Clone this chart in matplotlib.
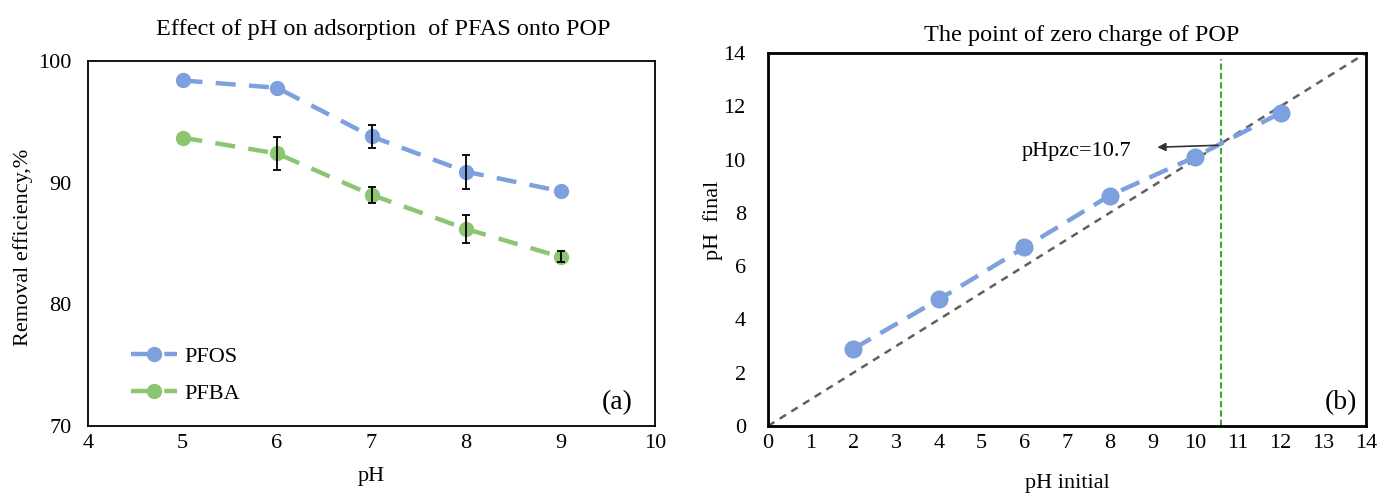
import matplotlib
matplotlib.use("Agg")
import matplotlib.pyplot as plt
import numpy as np

plt.rcParams["font.family"] = ["Liberation Serif", "DejaVu Serif"]

# (a) removal efficiency vs pH
ph = [5, 6, 7, 8, 9]
pfos = [98.4, 97.8, 93.8, 90.9, 89.3]
pfos_err = [0.0, 0.0, 0.95, 1.4, 0.0]
pfba = [93.7, 92.4, 89.0, 86.2, 83.9]
pfba_err = [0.0, 1.35, 0.65, 1.15, 0.45]

# (b) point of zero charge
ph_initial = [2, 4, 6, 8, 10, 12]
ph_final = [2.9, 4.75, 6.7, 8.65, 10.1, 11.75]
pzc_line = 10.6
pzc_label = "pHpzc=10.7"

BLUE = "#7DA0DE"
GREEN = "#8DC572"

fig = plt.figure(figsize=(13.83, 4.94), dpi=100)
ax1 = fig.add_axes([88 / 1383, 1 - 426 / 494, (655 - 88) / 1383, (426 - 61) / 494])
ax2 = fig.add_axes([768 / 1383, 1 - 426 / 494, (1366 - 768) / 1383, (426 - 53) / 494])

# --- left panel ---
for y, err, color, name in [(pfos, pfos_err, BLUE, "PFOS"),
                            (pfba, pfba_err, GREEN, "PFBA")]:
    ax1.plot(ph, y, color=color, linestyle=(0, (4.5, 3)), linewidth=3.2,
             marker="o", markersize=10, label=name, zorder=3)
    x_e = [p for p, e in zip(ph, err) if e > 0]
    y_e = [v for v, e in zip(y, err) if e > 0]
    e_e = [e for e in err if e > 0]
    ax1.errorbar(x_e, y_e, yerr=e_e, fmt="none", ecolor="black",
                 elinewidth=1.3, capsize=3, capthick=1.3, zorder=4)

ax1.set_xlim(4, 10)
ax1.set_ylim(70, 100)
ax1.set_xticks(np.arange(4, 11, 1))
ax1.set_yticks([70, 80, 90, 100])
ax1.set_title("Effect of pH on adsorption  of PFAS onto POP", fontsize=17.5,
              pad=19, x=0.52)
ax1.set_xlabel("pH", fontsize=16, labelpad=10)
ax1.set_ylabel("Removal efficiency,%", fontsize=16)
ax1.yaxis.set_label_coords(-0.097, 0.49)
ax1.legend(loc="lower left", bbox_to_anchor=(0.04, 0.005), frameon=False,
           fontsize=16, handlelength=2.1, handletextpad=0.3, labelspacing=0.75)
ax1.text(0.96, 0.03, "(a)", transform=ax1.transAxes, fontsize=20,
         ha="right", va="bottom")

# --- right panel ---
diag = np.array([0, 14])
ax2.plot(diag, diag, color="#606060", linestyle=(0, (3, 2.5)), linewidth=1.8,
         zorder=2)
ax2.plot(ph_initial, ph_final, color=BLUE, linestyle=(0, (4.5, 2.5)),
         linewidth=3.2, marker="o", markersize=12, zorder=3)
ax2.axvline(pzc_line, color="#3DAA2E", linestyle=(0, (3, 1.5)), linewidth=1.5,
            ymax=0.985, zorder=1)
ax2.annotate("", xy=(9.05, 10.46), xytext=(pzc_line, 10.54),
             arrowprops=dict(arrowstyle="-|>", color="#333333", lw=1.2,
                             mutation_scale=12))
ax2.text(8.5, 10.3, pzc_label, fontsize=16, ha="right", va="center")
ax2.text(0.985, 0.03, "(b)", transform=ax2.transAxes, fontsize=20,
         ha="right", va="bottom")

ax2.set_xlim(0, 14)
ax2.set_ylim(0, 14)
ax2.set_xticks(np.arange(0, 15, 1))
ax2.set_yticks(np.arange(0, 15, 2))
ax2.set_title("The point of zero charge of POP", fontsize=17.5, pad=9, x=0.525)
ax2.set_xlabel("pH initial", fontsize=16, labelpad=15)
ax2.set_ylabel("pH  final", fontsize=16)
ax2.yaxis.set_label_coords(-0.075, 0.55)

for ax, lw in [(ax1, 1.3), (ax2, 2.0)]:
    for s in ax.spines.values():
        s.set_linewidth(lw)
        s.set_color("black")
    ax.tick_params(length=0, labelsize=16)
    ax.tick_params(axis="x", pad=6)
ax1.tick_params(axis="y", pad=12)
ax2.tick_params(axis="y", pad=16)

fig.savefig("out.png", dpi=100)
